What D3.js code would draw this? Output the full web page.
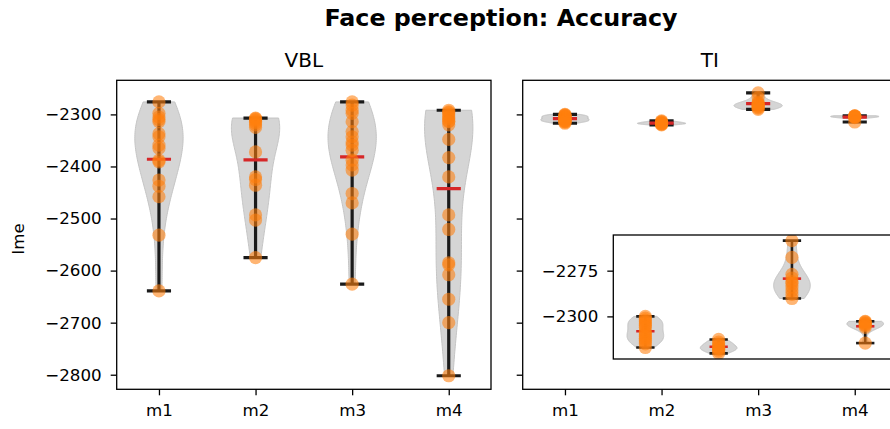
<!DOCTYPE html>
<html>
<head>
<meta charset="utf-8">
<script src="https://cdn.jsdelivr.net/npm/d3@7"></script>
<style>
  body { margin: 0; background: #fff; }
  svg { display: block; font-family: "DejaVu Sans", sans-serif; }
</style>
</head>
<body>
<svg id="fig" width="890" height="429"></svg>
<script>
// Model labels along the x axis
const categories = ["m1", "m2", "m3", "m4"];

// VBL: per-subject lme values for each model
const vblM1 = [-2276, -2298, -2305, -2310, -2314, -2337, -2343, -2359, -2365, -2388, -2391, -2426, -2438, -2458, -2532, -2639];
const vblM2 = [-2307, -2308, -2310, -2313, -2316, -2320, -2325, -2372, -2420, -2425, -2436, -2493, -2503, -2575];
const vblM3 = [-2276, -2282, -2292, -2298, -2314, -2333, -2343, -2353, -2359, -2369, -2388, -2397, -2407, -2452, -2470, -2530, -2626];
const vblM4 = [-2292, -2295, -2297, -2301, -2305, -2308, -2313, -2314, -2320, -2348, -2383, -2420, -2493, -2521, -2585, -2589, -2608, -2655, -2700, -2802];

// TI: per-subject lme values for each model
const tiM1 = [-2300, -2301, -2302, -2303, -2304, -2305, -2306, -2308, -2309, -2310, -2311, -2312, -2313, -2314, -2315, -2317];
const tiM2 = [-2312.6, -2314, -2315, -2316, -2317, -2317.5, -2318, -2319, -2320.2];
const tiM3 = [-2258.6, -2267.7, -2277, -2279, -2281, -2282, -2284, -2286, -2288, -2290.2];
const tiM4 = [-2302.7, -2303, -2303.5, -2304, -2304.5, -2305, -2306, -2314.6];

// Tick values
const yTicks = [-2800, -2700, -2600, -2500, -2400, -2300];
const insetTicks = [-2300, -2275];

const vblGroups = [vblM1, vblM2, vblM3, vblM4];
const tiGroups = [tiM1, tiM2, tiM3, tiM4];

const svg = d3.select("#fig");
const fmt = d => String(d).replace("-", "\u2212");

const TICK_FS = 16.7;
const panelW = 374.3;
const axTop = 80.3, axBottom = 389.3;
const xDomain = [0.5625, 4.4375];
const yDomain = [-2828, -2234.5];

const yMain = d3.scaleLinear().domain(yDomain).range([axBottom, axTop]);

// Gaussian KDE with Scott's bandwidth, evaluated between min and max
function violinProfile(values, nPts = 100) {
  const n = values.length;
  const bw = d3.deviation(values) * Math.pow(n, -0.2);
  const lo = d3.min(values), hi = d3.max(values);
  const ys = d3.range(nPts).map(i => lo + (hi - lo) * i / (nPts - 1));
  const dens = ys.map(y => d3.sum(values, v => Math.exp(-0.5 * ((y - v) / bw) ** 2)));
  const mx = d3.max(dens);
  return ys.map((y, i) => ({ y, w: dens[i] / mx }));
}

function drawViolins(g, x, y, groups, lw) {
  const half = 0.25;
  groups.forEach((vals, i) => {
    const pos = i + 1;
    const prof = violinProfile(vals);
    const area = d3.area()
      .y(d => y(d.y))
      .x0(d => x(pos - half * d.w))
      .x1(d => x(pos + half * d.w));
    g.append("path").datum(prof)
      .attr("d", area)
      .attr("fill", "#d3d3d3")
      .attr("fill-opacity", 0.95)
      .attr("stroke", "#c4c4c4")
      .attr("stroke-width", 1);
  });
  groups.forEach((vals, i) => {
    const pos = i + 1;
    const lo = d3.min(vals), hi = d3.max(vals), mean = d3.mean(vals);
    g.append("line")
      .attr("x1", x(pos)).attr("x2", x(pos))
      .attr("y1", y(lo)).attr("y2", y(hi))
      .attr("stroke", "#1a1a1a").attr("stroke-width", lw);
    [lo, hi].forEach(v => g.append("line")
      .attr("x1", x(pos - 0.125)).attr("x2", x(pos + 0.125))
      .attr("y1", y(v)).attr("y2", y(v))
      .attr("stroke", "#1a1a1a").attr("stroke-width", lw));
    g.append("line")
      .attr("x1", x(pos - 0.125)).attr("x2", x(pos + 0.125))
      .attr("y1", y(mean)).attr("y2", y(mean))
      .attr("stroke", "#d62728").attr("stroke-width", lw);
  });
  groups.forEach((vals, i) => {
    const pos = i + 1;
    g.selectAll(null).data(vals).enter().append("circle")
      .attr("cx", x(pos)).attr("cy", d => y(d))
      .attr("r", 6.6)
      .attr("fill", "#ff7f0e")
      .attr("fill-opacity", 0.58);
  });
}

function styleAxis(sel) {
  sel.select(".domain").remove();
  sel.selectAll(".tick line").attr("stroke", "#000").attr("stroke-width", 1.3);
  sel.selectAll(".tick text")
    .attr("fill", "#000")
    .attr("font-size", TICK_FS)
    .attr("font-family", "DejaVu Sans, sans-serif");
}

function drawPanel(left, title, groups, showYLabels, clipId) {
  const x = d3.scaleLinear().domain(xDomain).range([left, left + panelW]);
  svg.append("clipPath").attr("id", clipId)
    .append("rect").attr("x", left).attr("y", axTop)
    .attr("width", panelW).attr("height", axBottom - axTop);
  const body = svg.append("g").attr("clip-path", `url(#${clipId})`);
  drawViolins(body, x, yMain, groups, 3.2);

  const yAx = svg.append("g").attr("transform", `translate(${left},0)`)
    .call(d3.axisLeft(yMain).tickValues(yTicks).tickSize(6).tickPadding(9)
      .tickFormat(showYLabels ? fmt : () => ""));
  styleAxis(yAx);

  const xAx = svg.append("g").attr("transform", `translate(0,${axBottom})`)
    .call(d3.axisBottom(x).tickValues([1, 2, 3, 4]).tickSize(6).tickPadding(9)
      .tickFormat((d, i) => categories[i]));
  styleAxis(xAx);

  svg.append("rect")
    .attr("x", left).attr("y", axTop)
    .attr("width", panelW).attr("height", axBottom - axTop)
    .attr("fill", "none").attr("stroke", "#000").attr("stroke-width", 1.3);

  svg.append("text")
    .attr("x", left + panelW / 2).attr("y", 67)
    .attr("text-anchor", "middle")
    .attr("font-size", 20)
    .text(title);
  return x;
}

drawPanel(116.7, "VBL", vblGroups, true, "clipL");
drawPanel(522.7, "TI", tiGroups, false, "clipR");

// Zoomed inset of the TI distributions
const inL = 613.3, inT = 235, inB = 359, inW = 284;
const xIn = d3.scaleLinear().domain(xDomain).range([inL, inL + inW]);
const yIn = d3.scaleLinear().domain([-2323.3, -2255.5]).range([inB, inT]);
svg.append("rect").attr("x", inL).attr("y", inT)
  .attr("width", inW).attr("height", inB - inT).attr("fill", "#fff");
svg.append("clipPath").attr("id", "clipIn")
  .append("rect").attr("x", inL).attr("y", inT)
  .attr("width", inW).attr("height", inB - inT);
const inBody = svg.append("g").attr("clip-path", "url(#clipIn)");
drawViolins(inBody, xIn, yIn, tiGroups, 2.6);
const inAx = svg.append("g").attr("transform", `translate(${inL},0)`)
  .call(d3.axisLeft(yIn).tickValues(insetTicks).tickSize(6).tickPadding(9).tickFormat(fmt));
styleAxis(inAx);
svg.append("rect").attr("x", inL).attr("y", inT)
  .attr("width", inW).attr("height", inB - inT)
  .attr("fill", "none").attr("stroke", "#000").attr("stroke-width", 1.3);

// Shared y label and figure title
svg.append("text")
  .attr("transform", `translate(24,${(axTop + axBottom) / 2 + 4}) rotate(-90)`)
  .attr("text-anchor", "middle")
  .attr("font-size", TICK_FS)
  .text("lme");

svg.append("text")
  .attr("x", 501).attr("y", 26)
  .attr("text-anchor", "middle")
  .attr("font-size", 23.8)
  .attr("font-weight", "bold")
  .text("Face perception: Accuracy");
</script>
</body>
</html>
